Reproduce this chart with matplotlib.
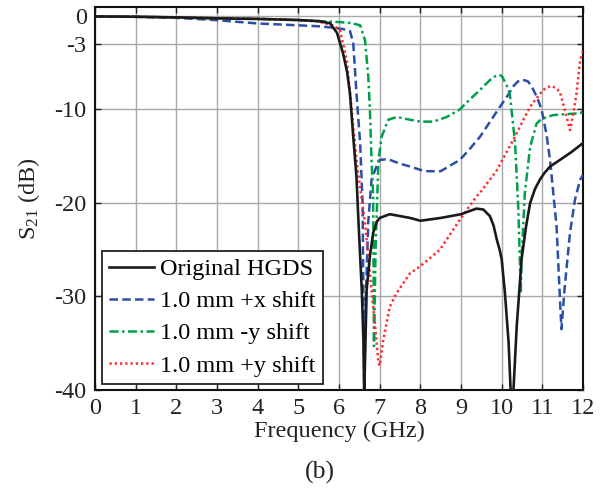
import matplotlib
matplotlib.use("Agg")
import matplotlib.pyplot as plt

plt.rcParams['font.family'] = ['Liberation Serif', 'DejaVu Serif']
plt.rcParams['mathtext.fontset'] = 'custom'
plt.rcParams['mathtext.rm'] = 'Liberation Serif'
plt.rcParams['mathtext.it'] = 'Liberation Serif:italic'
plt.rcParams['axes.unicode_minus'] = False

# ---- data ----
x_orig = [0, 1, 2, 3, 4, 5, 5.5, 5.78, 5.95, 6.1, 6.2, 6.27, 6.35, 6.43, 6.48, 6.56, 6.6, 6.62,
          6.68, 6.76, 6.84, 6.93, 7.0, 7.25, 7.5, 7.75, 8.0, 8.5, 9.0, 9.38, 9.55, 9.71, 9.8,
          9.88, 9.95, 10.0, 10.08, 10.17, 10.22, 10.26, 10.29, 10.37, 10.49, 10.6, 10.7, 10.82,
          10.94, 11.05, 11.19, 11.43, 11.7, 12.0]
y_orig = [-0.05, -0.08, -0.15, -0.25, -0.32, -0.43, -0.55, -0.78, -1.8, -4.0, -6.0, -8.3,
          -12.9, -17.2, -22.1, -29.3, -34.6, -40.5,
          -29.3, -25.7, -23.2, -22.0, -21.6, -21.2, -21.4, -21.6, -21.9, -21.6, -21.2, -20.6,
          -20.7, -21.4, -22.4, -23.9, -25.0, -26.0, -29.6, -34.9, -40.0, -40.5, -40.0, -33.2,
          -26.0, -22.5, -20.0, -18.5, -17.5, -16.8, -16.1, -15.4, -14.6, -13.6]

x_px = [0, 1, 2, 3, 4, 5, 5.5, 5.85, 6.1, 6.27, 6.35, 6.43, 6.52, 6.58, 6.6, 6.62, 6.66,
        6.72, 6.8, 6.93, 7.0, 7.2, 7.5, 7.75, 8.1, 8.5, 8.97, 9.2, 9.47, 9.96, 10.15, 10.29,
        10.4, 10.49, 10.58, 10.65, 10.78, 10.88, 10.98, 11.1, 11.19, 11.35, 11.43, 11.47,
        11.55, 11.68, 11.8, 11.93, 12.0]
y_px = [-0.05, -0.1, -0.2, -0.45, -0.8, -1.0, -1.1, -1.25, -1.4, -1.6, -2.9, -8.3, -13.6,
        -20.0, -30.0, -40.5, -30.0, -22.0, -17.5, -16.0, -15.4, -15.3, -15.8, -16.1, -16.6,
        -16.6, -15.4, -14.3, -12.9, -9.7, -8.5, -7.5, -7.0, -6.8, -6.9, -7.0, -7.9, -8.8,
        -10.0, -12.6, -15.4, -22.5, -30.0, -33.5, -29.0, -23.2, -19.7, -17.5, -17.0]

x_my = [0, 1, 2, 3, 4, 5, 5.5, 6.0, 6.3, 6.52, 6.64, 6.72, 6.76, 6.8, 6.84, 6.86, 6.9,
        6.97, 7.05, 7.21, 7.42, 7.75, 8.0, 8.32, 8.65, 8.97, 9.2, 9.47, 9.7, 9.82, 9.92, 10.0,
        10.05, 10.12, 10.2, 10.33, 10.41, 10.47, 10.49, 10.57, 10.7, 10.86, 10.98, 11.27,
        11.6, 11.93, 12.0]
y_my = [-0.05, -0.08, -0.15, -0.25, -0.3, -0.45, -0.55, -0.65, -0.75, -1.0, -2.6, -6.5,
        -10.0, -15.4, -19.3, -35.3, -25.0, -15.4, -12.9, -11.1, -10.8, -11.1, -11.3, -11.3,
        -10.8, -10.0, -9.0, -7.9, -6.9, -6.5, -6.3, -6.4, -6.8, -7.4, -8.3, -13.6, -20.7,
        -29.6, -26.0, -18.9, -14.0, -11.5, -11.0, -10.6, -10.5, -10.4, -10.2]

x_py = [0, 1, 2, 3, 4, 5, 5.5, 5.85, 6.02, 6.19, 6.31, 6.43, 6.56, 6.64, 6.76, 6.88, 6.97,
        7.0, 7.09, 7.25, 7.42, 7.75, 7.99, 8.48, 8.97, 9.38, 9.47, 9.88, 10.29, 10.7, 11.02,
        11.13, 11.23, 11.33, 11.43, 11.55, 11.68, 11.76, 11.84, 11.93, 12.0]
y_py = [-0.05, -0.08, -0.15, -0.25, -0.3, -0.43, -0.6, -1.0, -1.5, -4.7, -10.0, -15.4,
        -19.7, -22.1, -27.5, -32.8, -37.1, -37.4, -34.6, -31.1, -29.6, -27.5, -26.8, -25.0,
        -21.8, -19.3, -18.9, -16.5, -13.2, -9.7, -7.9, -7.6, -7.5, -7.7, -8.1, -10.0, -12.2,
        -10.5, -8.3, -4.7, -3.8]

labels = ['Original HGDS', '1.0 mm +x shift', '1.0 mm -y shift', '1.0 mm +y shift']
x_ticks = list(range(0, 13))
y_ticks = [0, -3, -10, -20, -30, -40]
y_ticklabels = ['0', '-3', '-10', '-20', '-30', '-40']

# ---- figure ----
fig = plt.figure(figsize=(6.02, 4.88), dpi=100)
ax = fig.add_axes([95 / 602, 98 / 488, 488 / 602, 383 / 488])

ax.plot(x_orig, y_orig, color='#1a1a1a', lw=1.9, ls='-', label=labels[0], zorder=4)
ax.plot(x_px, y_px, color='#2c4ea6', lw=1.8, ls=(0, (3.4, 1.7)), label=labels[1], zorder=3)
ax.plot(x_my, y_my, color='#00a04a', lw=1.8, ls=(0, (3.6, 1.4, 1.0, 1.4)), label=labels[2], zorder=3)
ax.plot(x_py, y_py, color='#ff2a2a', lw=1.8, ls=(0, (0.9, 1.2)), label=labels[3], zorder=3)

ax.set_xlim(0, 12)
ax.set_ylim(-40, 0.96)
ax.set_xticks(x_ticks)
ax.set_xticklabels([str(t) for t in x_ticks])
ax.set_yticks(y_ticks)
ax.set_yticklabels(y_ticklabels)
ax.grid(True, color='#a8a8a8', lw=1.0)
ax.set_axisbelow(True)
ax.tick_params(direction='in', top=True, right=True, length=4, width=1.0,
               labelsize=17.5, pad=6, colors='#222222')
for s in ax.spines.values():
    s.set_linewidth(1.5)
    s.set_color('#111111')

ax.set_xlabel('Frequency (GHz)', fontsize=17.5, labelpad=1, color='#222222')
ax.set_ylabel(r'S$_{\mathrm{21}}$ (dB)', fontsize=17.5, labelpad=9, color='#222222')

leg = ax.legend(loc='lower left', bbox_to_anchor=(0.0137, 0.0157), borderaxespad=0,
                fontsize=17.5, frameon=True, fancybox=False, handlelength=1.85,
                handletextpad=0.25, labelspacing=0.42, borderpad=0.3)
leg.get_frame().set_edgecolor('#222222')
leg.get_frame().set_linewidth(1.3)
leg.get_frame().set_alpha(1)

fig.text(320 / 602, 1 - 472 / 488, '(b)', fontsize=18.5, ha='center', va='center', color='#222222')

fig.savefig('out.png', dpi=100)
